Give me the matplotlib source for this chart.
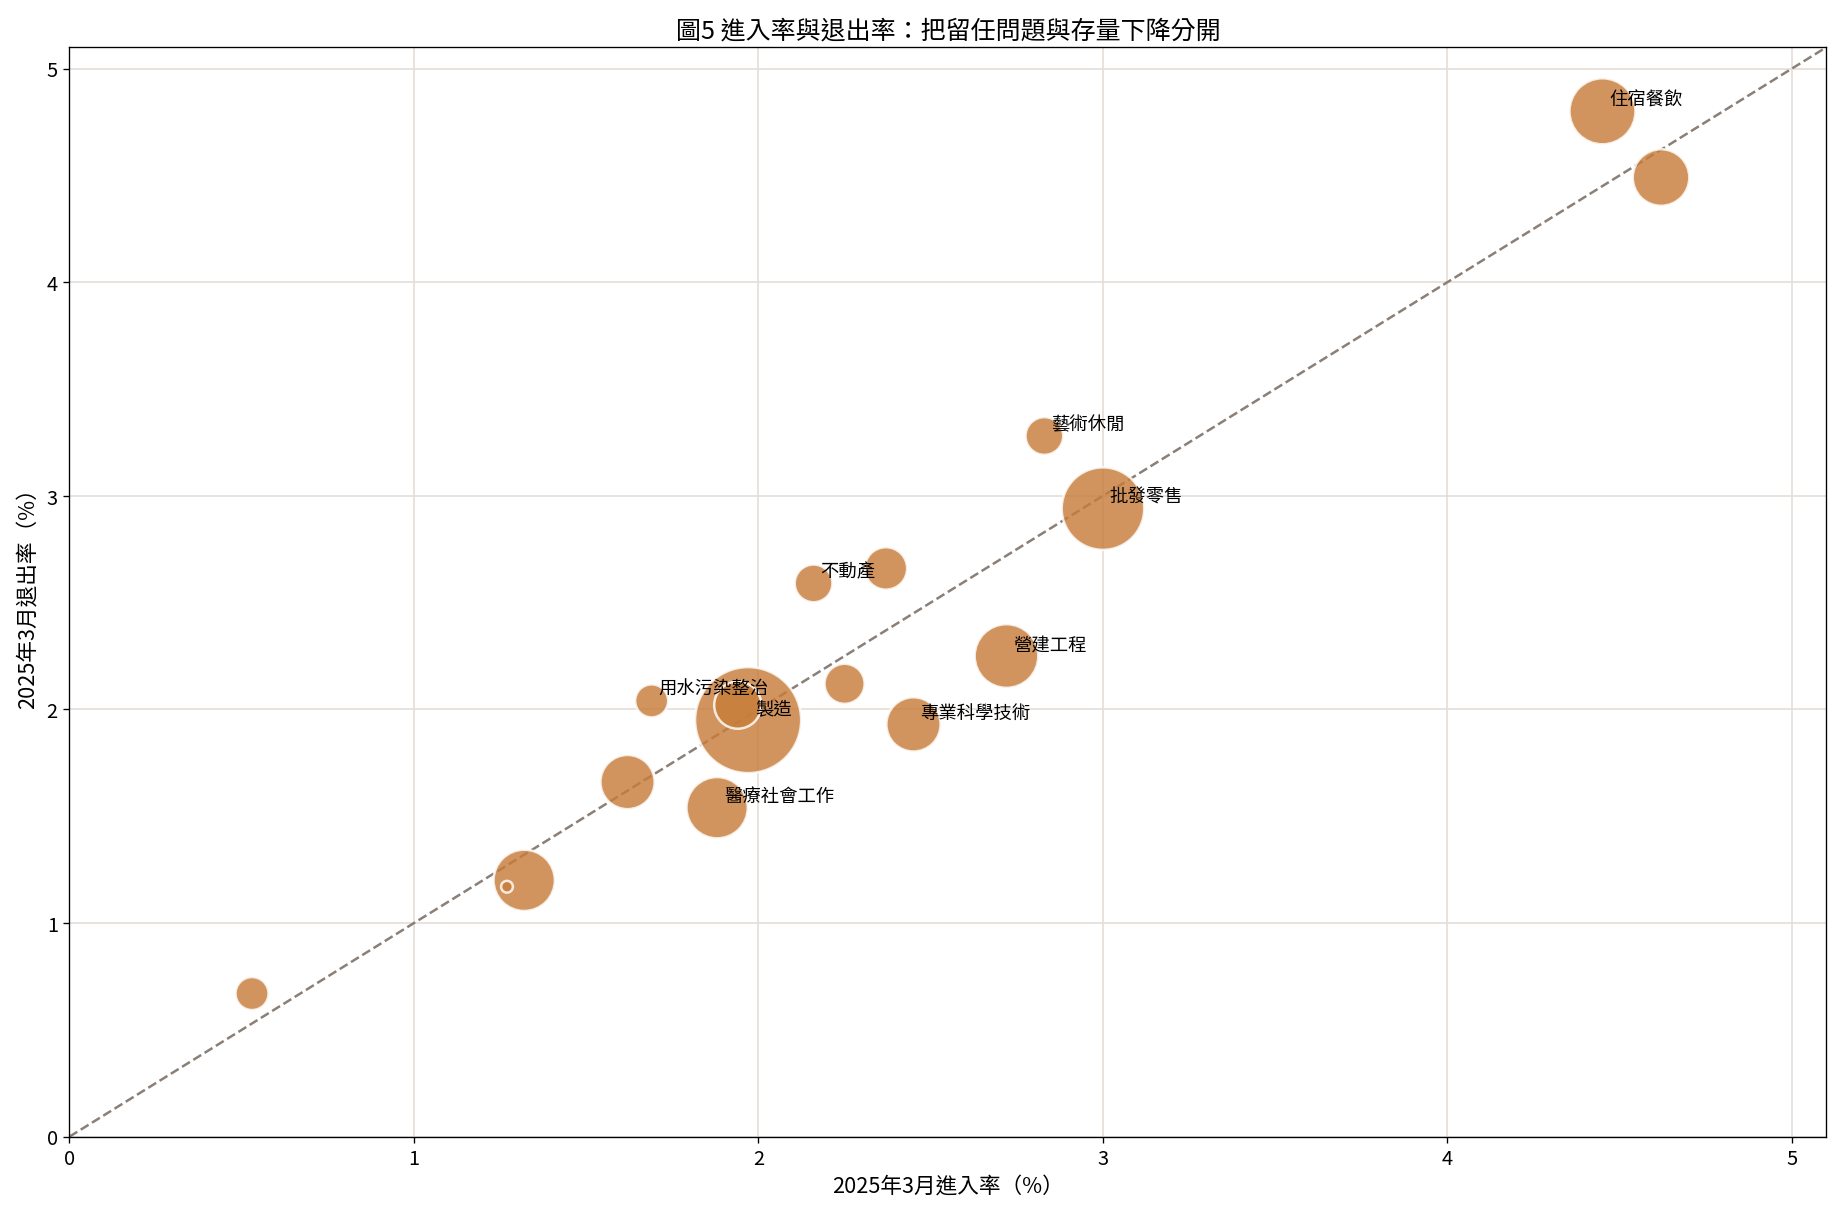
import matplotlib
matplotlib.use("Agg")
import matplotlib.pyplot as plt
import numpy as np

plt.rcParams["font.family"] = ["Noto Sans CJK TC", "DejaVu Sans"]

labels = ["住宿餐飲", "", "藝術休閒", "批發零售", "不動產", "", "營建工程", "",
          "專業科學技術", "用水污染整治", "製造", "", "", "醫療社會工作", "", "", ""]
entry = [4.45, 4.62, 2.83, 3.00, 2.16, 2.37, 2.72, 2.25, 2.45, 1.69, 1.97, 1.94,
         1.62, 1.88, 1.32, 1.27, 0.53]
exit_ = [4.80, 4.49, 3.28, 2.94, 2.59, 2.66, 2.25, 2.12, 1.93, 2.04, 1.95, 2.02,
         1.66, 1.54, 1.20, 1.17, 0.67]
radius = [28, 24, 16, 35, 16, 18, 27, 17, 23, 14, 45, 20, 23, 26, 26, 5, 14]

fig, ax = plt.subplots(figsize=(15.37, 10.14), dpi=120)
ax.grid(True, color="#e6ddd5", linewidth=1)
ax.set_axisbelow(True)
ax.plot([0, 5.1], [0, 5.1], "--", color="#8a8078", linewidth=1.5, zorder=1)
sizes = [2.0 * r ** 2 for r in radius]
ax.scatter(entry, exit_, s=sizes, color="#c87d3a", alpha=0.82,
           edgecolors="white", linewidths=1.5, zorder=2)
for x, y, lab in zip(entry, exit_, labels):
    if lab:
        ax.annotate(lab, (x, y), xytext=(4, 4), textcoords="offset points",
                    fontsize=11, zorder=3)

ax.set_xlim(0, 5.1)
ax.set_ylim(0, 5.1)
ax.tick_params(labelsize=12)
ax.set_xlabel("2025年3月進入率（%）", fontsize=13)
ax.set_ylabel("2025年3月退出率（%）", fontsize=13)
ax.set_title("圖5 進入率與退出率：把留任問題與存量下降分開", fontsize=15)
fig.tight_layout()
fig.savefig("out.png", dpi=120)
